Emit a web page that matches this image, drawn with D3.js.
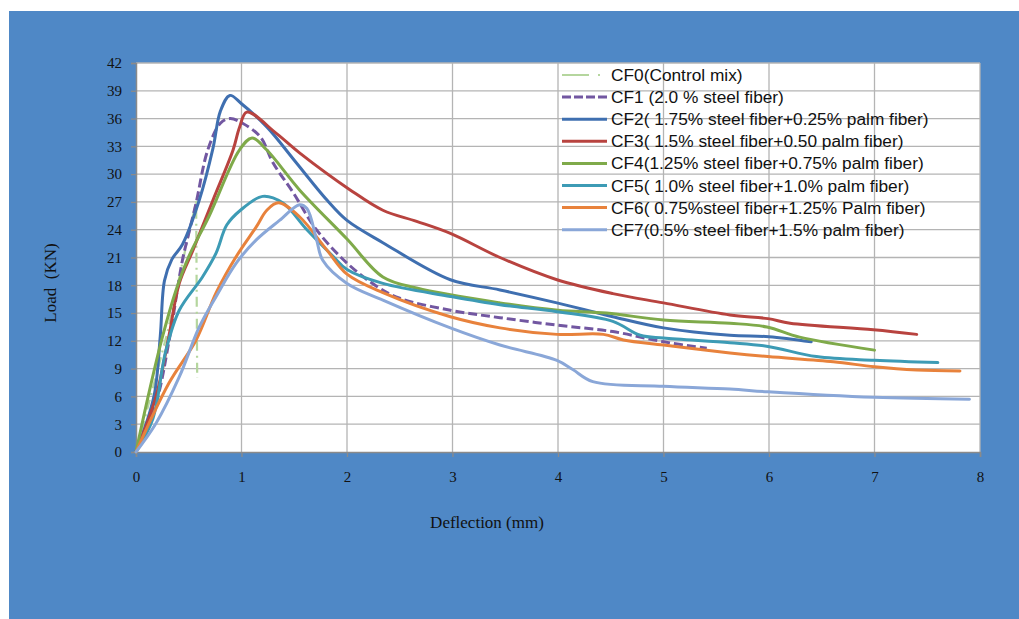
<!DOCTYPE html>
<html><head><meta charset="utf-8">
<script src="https://cdn.jsdelivr.net/npm/d3@7"></script>
<style>body{margin:0;background:#fff;} svg{display:block;}</style>
</head><body><svg id="c" width="1019" height="619"></svg>
<script>
const seriesNames = ["CF0(Control mix)","CF1 (2.0 % steel fiber)","CF2( 1.75% steel fiber+0.25% palm fiber)","CF3( 1.5% steel fiber+0.50 palm fiber)","CF4(1.25% steel fiber+0.75% palm fiber)","CF5( 1.0% steel fiber+1.0% palm fiber)","CF6( 0.75%steel fiber+1.25% Palm fiber)","CF7(0.5% steel fiber+1.5% palm fiber)"];
const seriesColors = ["#B5D69E","#7257A1","#3F6FB0","#B8433F","#7FAA4A","#3D9BB5","#E8823C","#8AA7D8"];
const xTicks = [0,1,2,3,4,5,6,7,8];
const yTicks = [0,3,6,9,12,15,18,21,24,27,30,33,36,39,42];

const cf0 = [[0,0],[0.3,13],[0.47,22],[0.57,27],[0.58,8]];
const cf1 = [[0,0],[0.19,5.3],[0.31,11.8],[0.44,20.7],[0.5,23.6],[0.57,26.9],[0.68,32.6],[0.8,35.5],[0.89,36.0],[1.01,35.5],[1.18,34.0],[1.3,31.2],[1.49,28.0],[1.71,24.0],[2.0,20.4],[2.28,17.9],[2.5,16.6],[2.98,15.3],[3.45,14.5],[3.99,13.7],[4.52,13.0],[5.0,11.9],[5.41,11.2]];
const cf2 = [[0,0],[0.17,6],[0.23,12.5],[0.27,18.5],[0.34,20.8],[0.44,22.4],[0.6,27.2],[0.73,32.8],[0.8,36.8],[0.89,38.5],[1.0,37.6],[1.24,35.1],[1.5,31.5],[1.81,27.2],[2.0,25.0],[2.34,22.6],[2.98,18.6],[3.45,17.5],[3.99,16.1],[4.52,14.6],[5.0,13.4],[5.63,12.6],[6.0,12.45],[6.4,11.9]];
const cf3 = [[0,0],[0.19,6],[0.31,12.4],[0.41,18.2],[0.54,21.8],[0.73,27.2],[0.92,32.6],[0.98,35.0],[1.05,36.7],[1.33,34.4],[1.55,32.3],[2.03,28.3],[2.34,26.1],[2.66,24.9],[2.98,23.6],[3.45,21.0],[3.99,18.6],[4.52,17.1],[5.0,16.1],[5.63,14.8],[5.99,14.4],[6.2,13.9],[6.99,13.2],[7.4,12.7]];
const cf4 = [[0,0],[0.125,6.5],[0.25,12.4],[0.38,17.5],[0.5,21.1],[0.69,25.4],[0.98,32.6],[1.1,33.9],[1.24,32.6],[1.55,28.3],[2.0,23.0],[2.34,18.9],[2.66,17.7],[3.45,16.1],[4.0,15.3],[4.46,15.0],[5.0,14.25],[5.63,13.9],[5.98,13.5],[6.29,12.4],[7.0,11.0]];
const cf5 = [[0,0],[0.16,3.6],[0.28,10.8],[0.41,15.3],[0.63,18.9],[0.76,21.5],[0.86,24.5],[0.99,26.1],[1.2,27.6],[1.39,26.9],[1.62,24.0],[1.87,21.1],[2.0,19.7],[2.34,18.2],[2.98,16.8],[3.45,15.9],[3.99,15.15],[4.52,14.1],[4.78,12.6],[5.0,12.3],[5.63,11.8],[5.99,11.4],[6.45,10.3],[7.0,9.9],[7.6,9.65]];
const cf6 = [[0,0],[0.31,7.4],[0.57,12.1],[0.76,17.2],[0.95,21.1],[1.14,24.3],[1.24,26.1],[1.35,26.9],[1.55,25.4],[1.81,21.8],[2.0,19.2],[2.34,17.2],[2.98,14.6],[3.45,13.4],[3.99,12.7],[4.43,12.7],[4.62,12.1],[5.0,11.55],[5.63,10.7],[5.99,10.3],[6.61,9.75],[7.0,9.2],[7.4,8.85],[7.81,8.75]];
const cf7 = [[0,0],[0.19,3.1],[0.41,8.1],[0.6,13.5],[0.76,16.8],[0.95,20.4],[1.14,22.9],[1.36,25.0],[1.55,26.7],[1.62,26.3],[1.71,23.0],[1.77,20.7],[2.0,18.2],[2.34,16.4],[2.98,13.4],[3.45,11.55],[3.99,9.9],[4.14,8.9],[4.33,7.6],[5.0,7.1],[5.63,6.8],[5.99,6.5],[7.0,5.9],[7.9,5.7]];
const seriesData = [cf0,cf1,cf2,cf3,cf4,cf5,cf6,cf7];

const svg = d3.select("#c");
svg.append("rect").attr("x",9).attr("y",11).attr("width",1010).attr("height",608).attr("fill","#4F88C6");

const L=136,R=980,T=63,B=452;
const x = d3.scaleLinear().domain([0,8]).range([L,R]);
const y = d3.scaleLinear().domain([0,42]).range([B,T]);

svg.append("rect").attr("x",L).attr("y",T).attr("width",R-L).attr("height",B-T).attr("fill","#fff");

// grid
const grid = svg.append("g");
grid.selectAll("line.h").data(yTicks.filter(d=>d>0)).join("line")
  .attr("x1",L).attr("x2",R).attr("y1",d=>y(d)).attr("y2",d=>y(d))
  .attr("stroke","#B4B4B4").attr("stroke-width",1.3);
grid.selectAll("line.v").data(xTicks.filter(d=>d>0)).join("line")
  .attr("y1",T).attr("y2",B).attr("x1",d=>x(d)).attr("x2",d=>x(d))
  .attr("stroke","#B4B4B4").attr("stroke-width",1.3);

// axes
const xAxis = svg.append("g").attr("transform",`translate(0,${B})`)
  .call(d3.axisBottom(x).tickValues(xTicks).tickFormat(d3.format("d")).tickSize(5).tickPadding(14));
const yAxis = svg.append("g").attr("transform",`translate(${L},0)`)
  .call(d3.axisLeft(y).tickValues(yTicks).tickFormat(d3.format("d")).tickSize(5).tickPadding(9));
[xAxis,yAxis].forEach(a=>{
  a.select(".domain").attr("stroke","#8A8A8A").attr("stroke-width",1.5);
  a.selectAll(".tick line").attr("stroke","#8A8A8A").attr("stroke-width",1.3);
  a.selectAll(".tick text").attr("font-family","'Liberation Serif','Times New Roman',serif").attr("font-size",15).attr("fill","#111");
});

// lines
const smooth = d3.line().x(d=>x(d[0])).y(d=>y(d[1])).curve(d3.curveCatmullRom.alpha(0.5));
const straight = d3.line().x(d=>x(d[0])).y(d=>y(d[1]));
const dashes = ["10,5,2,5","9,4",null,null,null,null,null,null];
seriesData.forEach((s,i)=>{
  svg.append("path").datum(s).attr("d",i===0?straight:smooth).attr("fill","none")
    .attr("stroke",seriesColors[i]).attr("stroke-width",i===0?2.2:3)
    .attr("stroke-linejoin","round").attr("stroke-linecap",i<2?"butt":"round")
    .attr("stroke-dasharray",dashes[i]);
});

// legend
const lg = svg.append("g");
const legDash = ["27,9,2,20","9,3",null,null,null,null,null,null];
seriesNames.forEach((n,i)=>{
  const yy = 75 + i*22.1;
  lg.append("line").attr("x1",562).attr("x2",607).attr("y1",yy).attr("y2",yy)
    .attr("stroke",seriesColors[i]).attr("stroke-width",i===0?2.2:3).attr("stroke-dasharray",legDash[i]);
  lg.append("text").attr("x",611).attr("y",yy+6).text(n)
    .attr("font-family","'Liberation Sans',Arial,sans-serif").attr("font-size",17.3).attr("fill","#111");
});

// titles
svg.append("text").attr("x",487).attr("y",528).attr("text-anchor","middle")
  .attr("font-family","'Liberation Serif','Times New Roman',serif").attr("font-size",17).attr("fill","#111")
  .text("Deflection (mm)");
svg.append("text").attr("transform","translate(56,283) rotate(-90)").attr("text-anchor","middle")
  .attr("font-family","'Liberation Serif','Times New Roman',serif").attr("font-size",17).attr("fill","#111")
  .attr("xml:space","preserve").text("Load  (KN)");
</script></body></html>
